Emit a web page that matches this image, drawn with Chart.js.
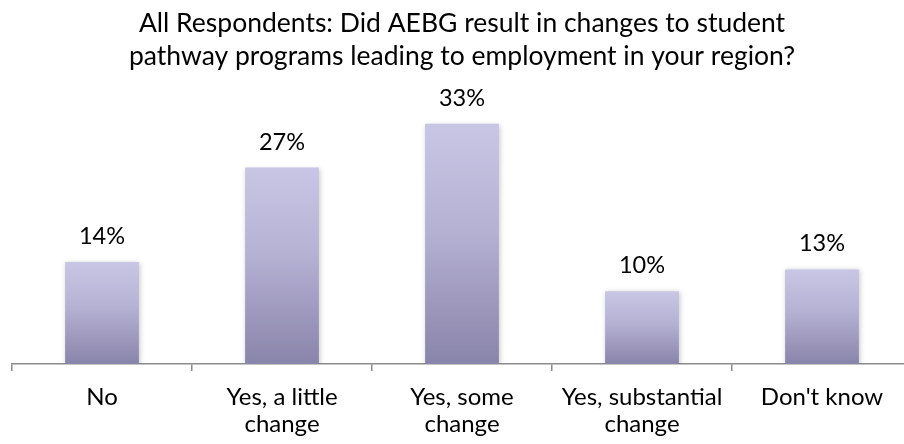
<!DOCTYPE html>
<html>
<head>
<meta charset="utf-8">
<script src="https://cdn.jsdelivr.net/npm/chart.js@4.4.1/dist/chart.umd.min.js"></script>
<style>
    html, body { margin: 0; padding: 0; background: #fff; overflow: hidden; }
    #wrap { position: relative; width: 904px; height: 444px; overflow: hidden; }
    #holder { position: absolute; left: -10px; top: 0; width: 924px; height: 444px; }
</style>
</head>
<body>
<div id="wrap"><div id="holder"><canvas id="barChart"></canvas></div></div>
<script>
const titleLines = ['All Respondents: Did AEBG result in changes to student',
                    'pathway programs leading to employment in your region?'];
const categories = [['No'], ['Yes, a little', 'change'], ['Yes, some', 'change'],
                    ['Yes, substantial', 'change'], ["Don't know"]];
const percentValues = [14, 27, 33, 10, 13];

const FONT = 'Lato, "Open Sans", sans-serif';

// light lavender at the top of each bar, darker at the base
function barGradient(context) {
    const chart = context.chart;
    const area = chart.chartArea;
    if (!area || !chart.scales.y) return '#b3aed0';
    const yTop = chart.scales.y.getPixelForValue(context.raw);
    const yBase = chart.scales.y.getPixelForValue(0);
    const g = chart.ctx.createLinearGradient(0, yTop, 0, yBase);
    g.addColorStop(0, '#c9c6e5');
    g.addColorStop(0.45, '#b5b1d3');
    g.addColorStop(1, '#8984a9');
    return g;
}

const shadowPlugin = {
    id: 'barShadow',
    beforeDatasetsDraw(chart) {
        const ctx = chart.ctx;
        ctx.save();
        ctx.shadowColor = 'rgba(0,0,0,0.22)';
        ctx.shadowBlur = 5;
        ctx.shadowOffsetX = 1;
        ctx.shadowOffsetY = 1;
    },
    afterDatasetsDraw(chart) {
        chart.ctx.restore();
    }
};

const valueLabels = {
    id: 'valueLabels',
    afterDraw(chart) {
        const ctx = chart.ctx;
        const meta = chart.getDatasetMeta(0);
        ctx.save();
        ctx.font = '23.5px ' + FONT;
        ctx.fillStyle = '#000';
        ctx.textAlign = 'center';
        ctx.textBaseline = 'alphabetic';
        meta.data.forEach((bar, i) => {
            ctx.fillText(percentValues[i] + '%', bar.x, bar.y - 18);
        });
        ctx.restore();
    }
};

const ctx = document.getElementById('barChart').getContext('2d');
new Chart(ctx, {
    type: 'bar',
    data: {
        labels: categories,
        datasets: [{
            data: percentValues,
            backgroundColor: barGradient,
            borderWidth: 0,
            categoryPercentage: 1,
            barPercentage: 0.41
        }]
    },
    options: {
        responsive: true,
        maintainAspectRatio: false,
        animation: false,
        layout: { padding: { left: 22, right: 2, top: 0, bottom: 0 } },
        plugins: {
            legend: { display: false },
            tooltip: { enabled: false },
            title: {
                display: true,
                text: titleLines,
                color: '#000',
                font: { family: FONT, size: 26.5, weight: 'normal', lineHeight: 1.28 },
                padding: { top: 6, bottom: 34 }
            }
        },
        scales: {
            x: {
                offset: true,
                grid: {
                    offset: true,
                    drawOnChartArea: false,
                    drawTicks: true,
                    tickLength: 7,
                    color: '#8c8c8c',
                    lineWidth: 1.5
                },
                border: { display: true, color: '#8c8c8c', width: 1.5 },
                ticks: {
                    color: '#000',
                    padding: 13,
                    maxRotation: 0,
                    autoSkip: false,
                    font: { family: FONT, size: 24, lineHeight: 1.125 }
                },
                afterFit(scale) { scale.height = 80; }
            },
            y: {
                display: false,
                min: 0,
                max: 35.2,
                beginAtZero: true
            }
        }
    },
    plugins: [shadowPlugin, valueLabels]
});
</script>
</body>
</html>
